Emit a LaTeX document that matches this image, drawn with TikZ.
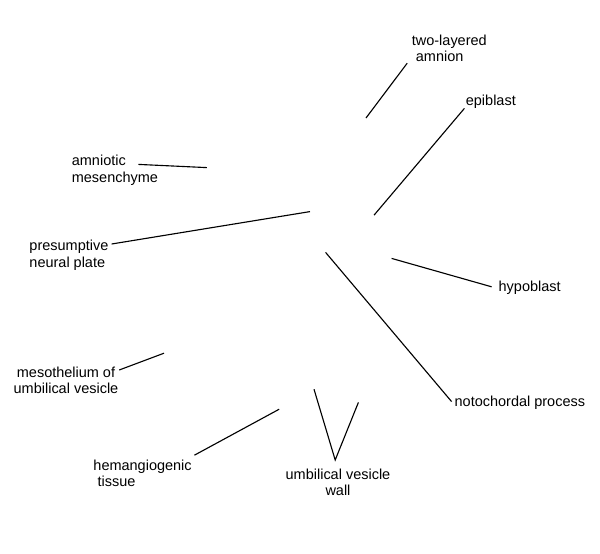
\documentclass[tikz,border=0pt]{standalone}
\usepackage{fontspec}
\setmainfont{Liberation Sans}
\begin{document}
\begin{tikzpicture}[lbl/.style={inner sep=0pt,align=left,anchor=west,font=\fontsize{10.3}{11.9}\selectfont},
                    ptr/.style={line width=0.8pt}]
            \useasboundingbox (0,0) rectangle (15,-13.85);

            \node[lbl] (amnion) at (10.29, -1.21) {two-layered\\\hspace*{0.28em}amnion};
            \node[lbl] (epi) at (11.64, -2.54) {epiblast};
            \node[lbl] (mesench) at (1.79, -4.25) {amniotic\\mesenchyme};
            \node[lbl] (neural) at (0.73, -6.38) {presumptive\\neural plate};
            \node[lbl] (hypo) at (12.46, -7.19) {hypoblast};
            \node[lbl] (noto) at (11.36, -10.08) {notochordal process};
            \node[lbl,align=center,anchor=center] (meso) at (1.65, -9.51) {mesothelium of\\umbilical vesicle};
            \node[lbl] (hemang) at (2.33, -11.83) {hemangiogenic\\\hspace*{0.28em}tissue};
            \node[lbl,align=center,anchor=center] (wall) at (8.45, -12.06) {umbilical vesicle\\wall};

            \coordinate (amnion-a) at (10.18, -1.58);
            \coordinate (amnion-b) at (9.15, -2.95);
            \coordinate (epi-a) at (11.61, -2.71);
            \coordinate (epi-b) at (9.35, -5.38);
            \coordinate (mesench-a) at (3.46, -4.11);
            \coordinate (mesench-b) at (5.17, -4.19);
            \coordinate (neural-a) at (2.79, -6.10);
            \coordinate (neural-b) at (7.75, -5.29);
            \coordinate (hypo-a) at (12.29, -7.17);
            \coordinate (hypo-b) at (9.79, -6.46);
            \coordinate (noto-a) at (11.29, -10.04);
            \coordinate (noto-b) at (8.14, -6.31);
            \coordinate (meso-a) at (2.98, -9.25);
            \coordinate (meso-b) at (4.10, -8.83);
            \coordinate (hemang-a) at (4.86, -11.38);
            \coordinate (hemang-b) at (6.98, -10.23);
            \coordinate (wall-a) at (8.38, -11.50);
            \coordinate (wall-b) at (7.85, -9.73);
            \coordinate (wall-c) at (8.96, -10.06);

            \draw[ptr] (amnion-a) -- (amnion-b);
            \draw[ptr] (epi-a) -- (epi-b);
            \draw[ptr] (mesench-a) -- (mesench-b);
            \draw[ptr] (neural-a) -- (neural-b);
            \draw[ptr] (hypo-a) -- (hypo-b);
            \draw[ptr] (noto-a) -- (noto-b);
            \draw[ptr] (meso-a) -- (meso-b);
            \draw[ptr] (hemang-a) -- (hemang-b);
            \draw[ptr] (wall-b) -- (wall-a) -- (wall-c);

        \end{tikzpicture}
\end{document}
